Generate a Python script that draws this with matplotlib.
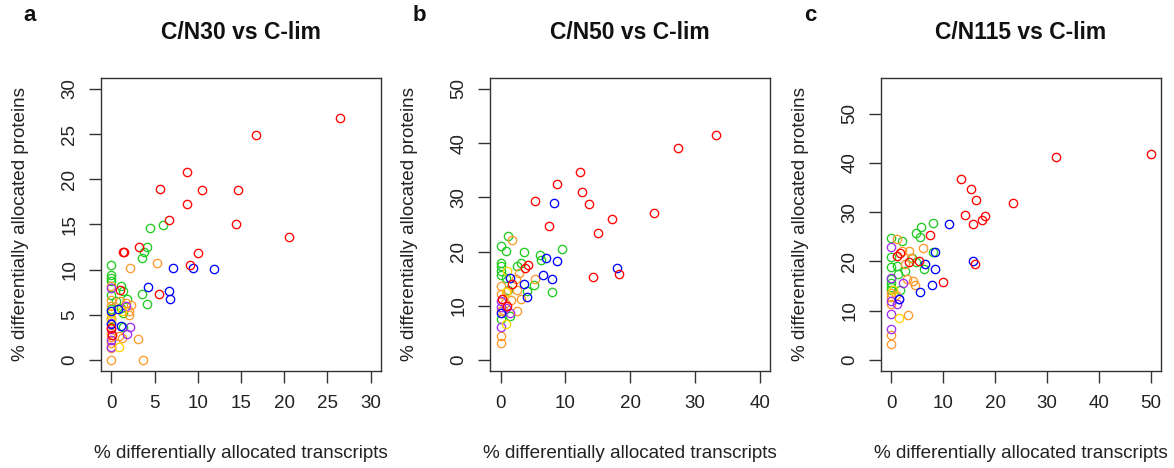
import matplotlib
matplotlib.use('Agg')
import matplotlib.pyplot as plt

plt.rcParams['font.family'] = ['Liberation Sans', 'DejaVu Sans']

# colour per transcript category (R-style palette)
COLORS = {'red': '#FF0000', 'green': '#22CC22', 'blue': '#0000FF',
          'orange': '#FF9A2E', 'purple': '#A030F0', 'yellow': '#FFD700'}

# (% transcripts, % proteins) for each category
A_RED = [(26.5, 26.8), (16.7, 24.9), (8.8, 20.8), (5.6, 18.9), (10.5, 18.8), (14.7, 18.8),
         (8.8, 17.3), (6.7, 15.5), (14.4, 15.0), (20.6, 13.6), (3.2, 12.5), (1.3, 12.0),
         (1.5, 12.0), (10.0, 11.8), (9.1, 10.5), (5.5, 7.3), (1.0, 7.8), (0.0, 3.6), (0.1, 2.8)]
A_GREEN = [(4.5, 14.6), (6.0, 14.9), (4.1, 12.5), (3.8, 12.0), (3.6, 11.3), (0.0, 10.5),
           (0.0, 9.4), (0.0, 9.1), (0.0, 8.8), (0.0, 7.2), (3.6, 7.3), (4.1, 6.2), (1.1, 8.2),
           (1.4, 7.7), (1.8, 6.8), (1.1, 5.8), (1.3, 5.2), (0.0, 5.6), (1.3, 3.7), (0.5, 6.5),
           (0.0, 4.5)]
A_BLUE = [(7.1, 10.2), (9.4, 10.2), (11.9, 10.1), (4.3, 8.1), (6.7, 7.7), (6.8, 6.8),
          (0.0, 5.4), (1.1, 3.8), (0.8, 5.6), (0.0, 4.0)]
A_ORANGE = [(2.2, 10.2), (5.3, 10.7), (0.0, 0.0), (3.7, 0.0), (3.1, 2.3), (2.3, 6.1),
            (2.1, 5.0), (0.9, 2.7), (0.0, 8.2), (0.0, 6.6), (0.0, 4.7), (0.0, 2.6), (0.0, 1.9),
            (1.7, 6.3), (0.0, 6.0), (1.0, 6.5), (2.0, 5.4), (0.0, 3.0), (0.0, 1.3), (1.2, 2.5)]
A_PURPLE = [(2.2, 3.7), (1.8, 2.9), (0.0, 4.1), (0.0, 3.4), (0.0, 1.5), (1.7, 6.0),
            (0.0, 8.0), (0.0, 2.2)]
A_YELLOW = [(0.9, 1.5), (0.0, 5.2), (1.2, 5.4), (0.0, 4.3)]

B_RED = [(33.3, 41.5), (27.3, 39.1), (12.3, 34.7), (8.7, 32.5), (12.5, 31.0), (5.3, 29.4),
         (13.7, 28.8), (23.6, 27.2), (17.2, 26.1), (7.5, 24.8), (15.0, 23.4), (14.2, 15.3),
         (18.2, 15.8), (4.2, 17.5), (3.7, 17.0), (1.7, 14.0), (1.0, 9.9), (0.2, 11.2)]
B_GREEN = [(1.1, 22.8), (0.0, 21.0), (0.8, 20.1), (3.6, 19.9), (9.4, 20.4), (6.0, 19.4),
           (6.3, 18.5), (3.1, 17.9), (2.5, 17.4), (0.0, 17.9), (0.0, 17.3), (0.0, 16.4),
           (0.0, 15.6), (8.0, 12.6), (5.1, 13.9), (4.1, 12.7), (0.8, 15.2), (1.5, 8.2),
           (0.0, 7.5), (1.2, 13.0)]
B_BLUE = [(8.2, 29.0), (18.0, 16.9), (7.0, 18.8), (8.7, 18.3), (6.6, 15.7), (8.0, 15.0),
          (3.6, 14.0), (4.0, 11.6), (1.4, 15.2), (0.0, 8.7)]
B_ORANGE = [(1.8, 22.1), (5.3, 15.0), (2.9, 16.1), (2.4, 15.0), (2.6, 13.0), (3.1, 11.3),
            (2.5, 9.0), (0.0, 4.4), (0.0, 3.1), (0.0, 13.6), (0.0, 12.1), (0.4, 9.3),
            (1.0, 12.8), (0.7, 10.6), (1.6, 11.0), (0.0, 9.0)]
B_PURPLE = [(0.0, 6.1), (0.0, 10.9), (0.9, 9.6), (1.5, 8.7), (0.0, 9.8)]
B_YELLOW = [(0.8, 6.7), (1.0, 16.4), (0.8, 12.5)]

C_RED = [(50.0, 41.7), (31.8, 41.2), (13.5, 36.8), (15.4, 34.6), (16.3, 32.5), (23.4, 31.9),
         (14.2, 29.5), (18.1, 29.2), (17.4, 28.5), (15.8, 27.5), (7.4, 25.4), (9.9, 15.8),
         (16.1, 19.4), (5.4, 20.1), (3.4, 19.8), (1.7, 21.8), (1.0, 21.1)]
C_GREEN = [(8.1, 27.8), (5.8, 26.9), (4.8, 25.8), (5.6, 24.9), (0.0, 24.7), (2.1, 24.2),
           (8.0, 22.0), (0.0, 21.0), (0.0, 18.9), (1.1, 19.1), (3.9, 20.8), (4.8, 19.8),
           (6.3, 18.5), (2.6, 18.1), (0.0, 16.5), (0.0, 15.7), (0.0, 14.9), (0.0, 14.2),
           (1.2, 17.4), (1.7, 14.3)]
C_BLUE = [(11.2, 27.5), (8.5, 22.0), (15.8, 20.1), (6.4, 19.4), (8.5, 18.5), (7.9, 15.2),
          (5.6, 13.9), (1.55, 12.4)]
C_ORANGE = [(1.0, 24.5), (3.5, 22.2), (6.2, 22.7), (2.7, 19.4), (4.1, 16.0), (4.5, 15.2),
            (3.2, 9.1), (0.0, 5.1), (0.0, 3.2), (0.0, 13.7), (0.0, 12.7), (0.0, 11.3),
            (0.9, 13.3), (3.0, 16.5), (3.8, 20.8), (2.1, 22.1)]
C_PURPLE = [(0.0, 22.9), (0.0, 6.4), (0.0, 9.3), (0.0, 16.7), (0.0, 12.0), (1.0, 11.3),
            (1.55, 12.3), (2.3, 15.7)]
C_YELLOW = [(1.4, 8.5), (0.3, 14.3)]

PANELS = [
    dict(letter='a', title='C/N30 vs C-lim', left=0.0860,
         xmax=30, xstep=5, ymax=30, ystep=5, ytop=30,
         series=[('green', A_GREEN), ('orange', A_ORANGE), ('purple', A_PURPLE),
                 ('yellow', A_YELLOW), ('blue', A_BLUE), ('red', A_RED)]),
    dict(letter='b', title='C/N50 vs C-lim', left=0.4176,
         xmax=40, xstep=10, ymax=50, ystep=10, ytop=50,
         series=[('green', B_GREEN), ('orange', B_ORANGE), ('purple', B_PURPLE),
                 ('yellow', B_YELLOW), ('blue', B_BLUE), ('red', B_RED)]),
    dict(letter='c', title='C/N115 vs C-lim', left=0.7504,
         xmax=50, xstep=10, ymax=55, ystep=10, ytop=50,
         series=[('green', C_GREEN), ('orange', C_ORANGE), ('purple', C_PURPLE),
                 ('yellow', C_YELLOW), ('blue', C_BLUE), ('red', C_RED)]),
]

fig = plt.figure(figsize=(11.74, 4.68), dpi=100)

for p in PANELS:
    ax = fig.add_axes([p['left'], 0.2073, 0.2385, 0.626])
    for name, pts in p['series']:
        xs = [pt[0] for pt in pts]
        ys = [pt[1] for pt in pts]
        ax.plot(xs, ys, linestyle='none', marker='o', markersize=6.0,
                markerfacecolor='none', markeredgecolor=COLORS[name],
                markeredgewidth=0.95)

    # R-style axis extension of 4 % on both sides
    xpad = p['xmax'] * 0.04
    ypad = p['ymax'] * 0.04
    ax.set_xlim(-xpad, p['xmax'] + xpad)
    ax.set_ylim(-ypad, p['ymax'] + ypad)
    ax.set_xticks(range(0, p['xmax'] + 1, p['xstep']))
    ax.set_yticks(range(0, p['ytop'] + 1, p['ystep']))

    for s in ax.spines.values():
        s.set_linewidth(1.0)
        s.set_color('#333333')
    ax.tick_params(direction='out', length=8.4, width=1.0, color='#333333',
                   labelsize=13.5, labelcolor='#222222')
    ax.tick_params(axis='x', pad=9)
    ax.tick_params(axis='y', pad=8, labelrotation=90)
    for lab in ax.get_yticklabels():
        lab.set_va('center')

    ax.text(0.5, 1.157, p['title'], transform=ax.transAxes, ha='center',
            va='center', fontsize=16.5, fontweight='bold', color='#111111')
    ax.text(-0.254, 1.215, p['letter'], transform=ax.transAxes, ha='center',
            va='center', fontsize=16, fontweight='bold', color='#111111')
    ax.text(0.5, -0.28, '% differentially allocated transcripts',
            transform=ax.transAxes, ha='center', va='center', fontsize=13.6,
            color='#222222')
    ax.text(-0.289, 0.5, '% differentially allocated proteins',
            transform=ax.transAxes, ha='center', va='center', rotation=90,
            fontsize=13.6, color='#222222')

fig.savefig('out.png', dpi=100)
